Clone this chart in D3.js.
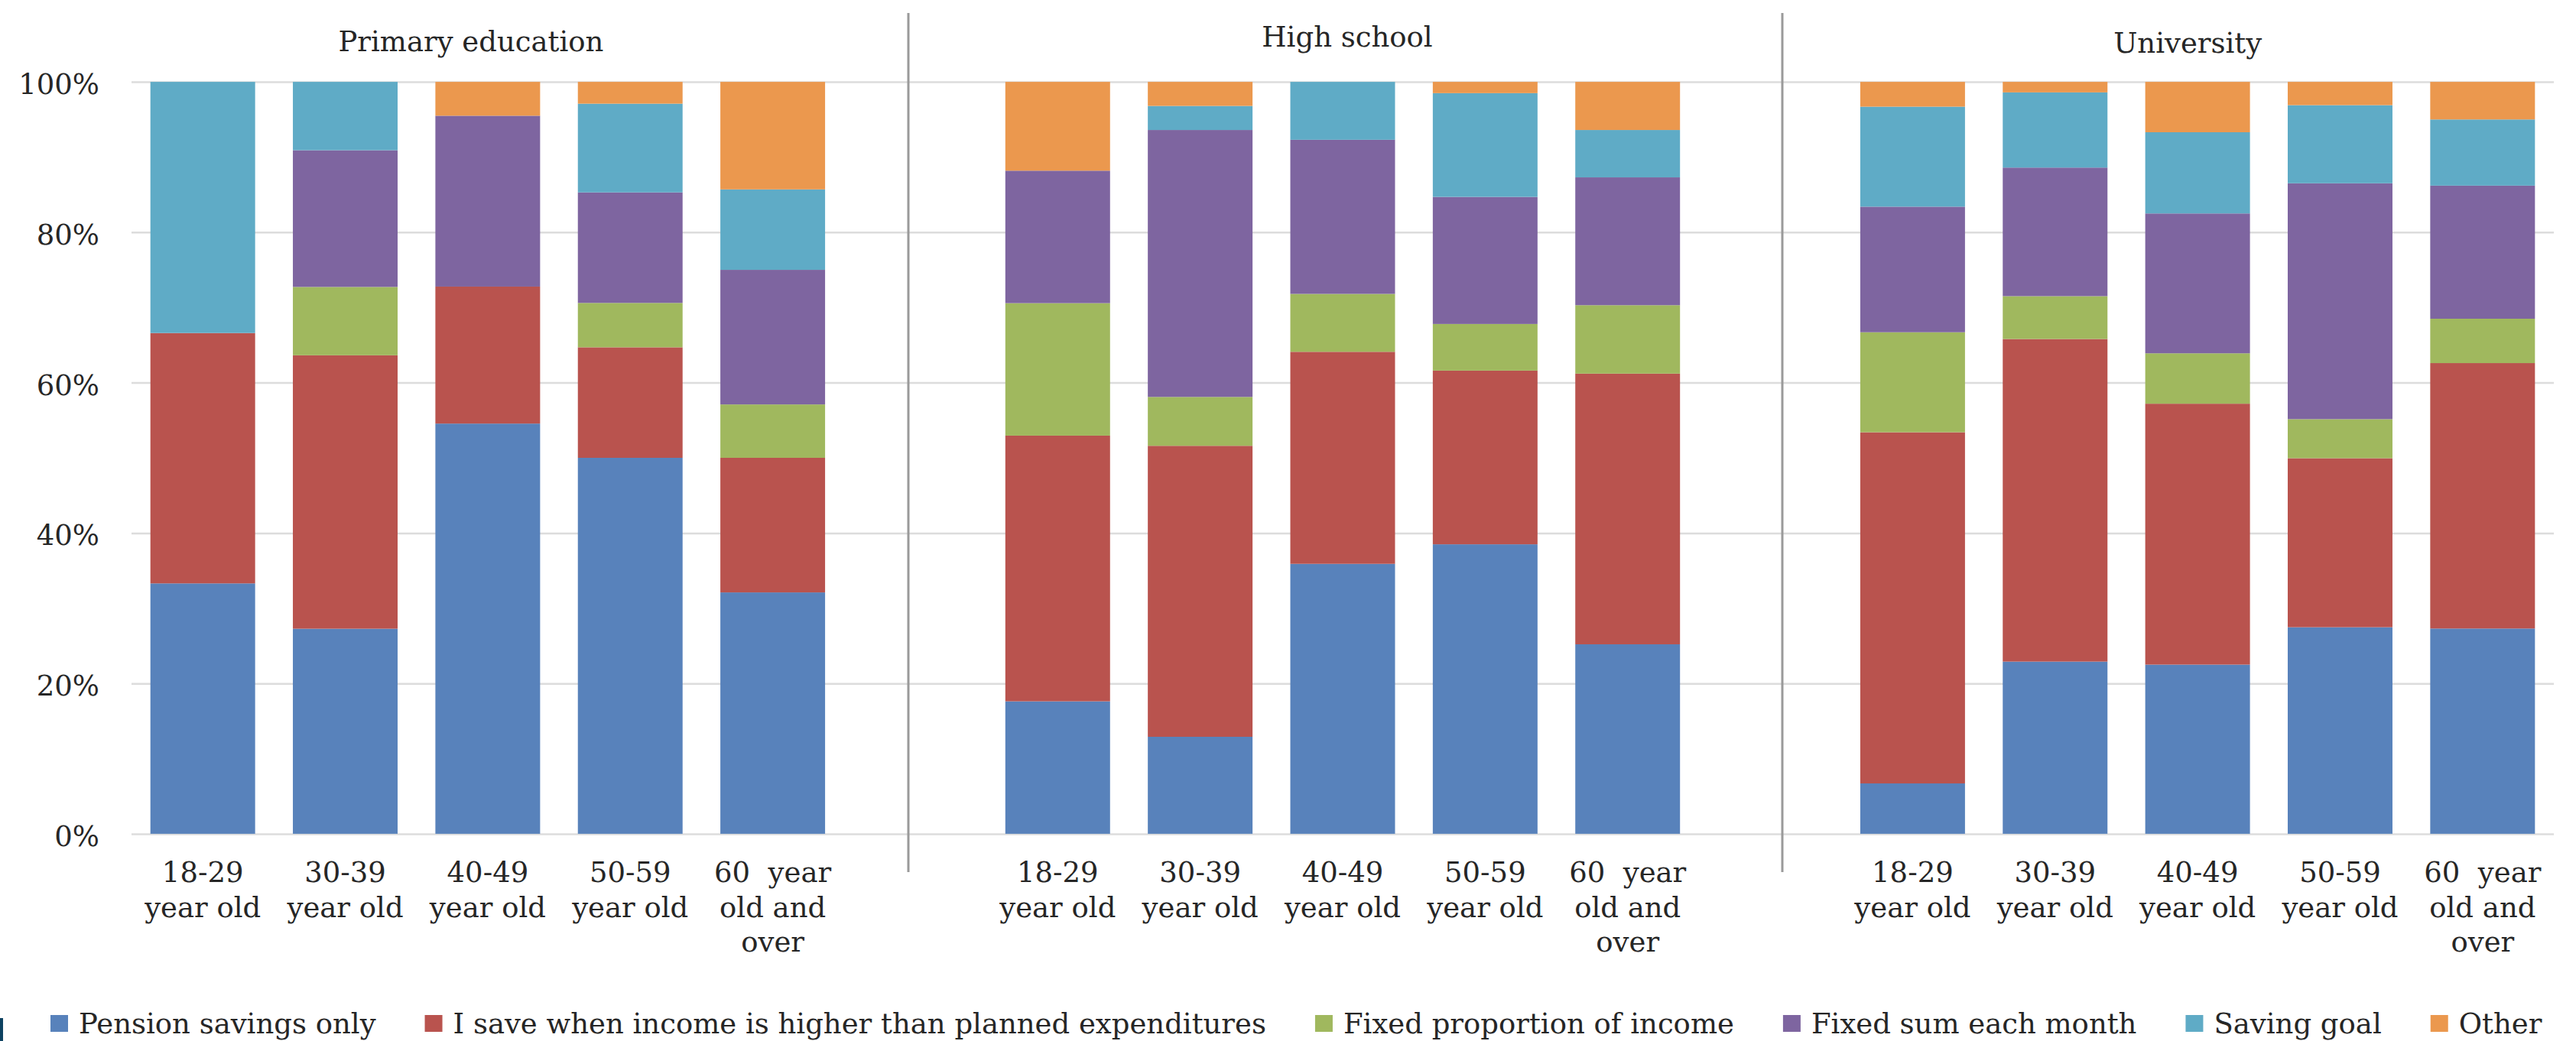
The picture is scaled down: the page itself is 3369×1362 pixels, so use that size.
<!DOCTYPE html>
<html>
<head>
<meta charset="utf-8">
<script src="https://cdn.jsdelivr.net/npm/d3@7"></script>
<style>
  html, body { margin: 0; padding: 0; background: #ffffff; }
  svg { display: block; }
  text { font-family: "DejaVu Serif", "Liberation Serif", serif; fill: #262626; }
</style>
</head>
<body>
<svg id="chart" width="3369" height="1362"></svg>
<script>
// ---------- DATA ----------
const groups = ["Primary education", "High school", "University"];
const ageLabels = [
  ["18-29", "year old"],
  ["30-39", "year old"],
  ["40-49", "year old"],
  ["50-59", "year old"],
  ["60  year", "old and", "over"]
];
const seriesNames = [
  "Pension savings only",
  "I save when income is higher than planned expenditures",
  "Fixed proportion of income",
  "Fixed sum each month",
  "Saving goal",
  "Other"
];
// values in %, order: Primary (5 ages), High school (5 ages), University (5 ages)
const pensionOnly   = [33.3, 27.3, 54.5, 50.0, 32.1, 17.6, 12.9, 35.9, 38.5, 25.2, 6.7, 22.9, 22.5, 27.5, 27.3];
const saveWhenHigher= [33.3, 36.4, 18.2, 14.7, 17.9, 35.3, 38.7, 28.2, 23.1, 36.0, 46.7, 42.9, 34.7, 22.5, 35.3];
const fixedProportion=[0.0, 9.1, 0.0, 5.9, 7.1, 17.6, 6.5, 7.7, 6.2, 9.1, 13.3, 5.7, 6.7, 5.2, 5.9];
const fixedSum      = [0.0, 18.2, 22.7, 14.7, 17.9, 17.6, 35.5, 20.5, 16.9, 17.0, 16.7, 17.1, 18.6, 31.4, 17.7];
const savingGoal    = [33.4, 9.1, 0.0, 11.8, 10.7, 0.0, 3.2, 7.7, 13.8, 6.3, 13.3, 10.0, 10.8, 10.4, 8.8];
const other         = [0.0, 0.0, 4.5, 2.9, 14.3, 11.8, 3.2, 0.0, 1.5, 6.4, 3.3, 1.4, 6.7, 3.1, 5.0];
const yTicks = [0, 0.2, 0.4, 0.6, 0.8, 1.0];

// ---------- STYLE / LAYOUT ----------
const colors = ["#5882bb", "#b9534e", "#a0b85e", "#7e65a0", "#5fabc6", "#eb984e"];
const FONT = 37;
const plot = { left: 172, right: 3340, top: 107.1, bottom: 1090.9 };
const titleY = [67, 61, 69];
const sepX = [1188, 2331];

const svg = d3.select("#chart");

// build rows
const allSeries = [pensionOnly, saveWhenHigher, fixedProportion, fixedSum, savingGoal, other];
const rows = [];
groups.forEach((g, gi) => {
  ageLabels.forEach((a, ai) => {
    const idx = gi * 5 + ai;
    const row = { key: "g" + gi + "a" + ai, group: gi, age: ai };
    seriesNames.forEach((s, si) => row[s] = allSeries[si][idx]);
    rows.push(row);
  });
});

// x domain with blank slots between groups
const xDomain = [];
groups.forEach((g, gi) => {
  ageLabels.forEach((a, ai) => xDomain.push("g" + gi + "a" + ai));
  if (gi < groups.length - 1) xDomain.push("gap" + gi);
});

const x = d3.scaleBand().domain(xDomain).range([plot.left, plot.right])
  .paddingInner(0.265).paddingOuter(0.1325);
const y = d3.scaleLinear().domain([0, 1]).range([plot.bottom, plot.top]);

// gridlines + y labels
const yAxis = d3.axisLeft(y).tickValues(yTicks).tickFormat(d3.format(".0%"))
  .tickSize(-(plot.right - plot.left)).tickPadding(42);
const gy = svg.append("g").attr("transform", `translate(${plot.left},0)`).call(yAxis);
gy.select(".domain").remove();
gy.selectAll(".tick line").attr("stroke", "#dcdcdc").attr("stroke-width", 2.5);
gy.selectAll(".tick text")
  .attr("font-size", FONT)
  .attr("font-family", '"DejaVu Serif", serif')
  .attr("fill", "#262626")
  .attr("dy", "0.42em");

// separators
svg.append("g").selectAll("line").data(sepX).join("line")
  .attr("x1", d => d).attr("x2", d => d)
  .attr("y1", 17).attr("y2", 1141)
  .attr("stroke", "#9a9a9a").attr("stroke-width", 3);

// stacked bars
const stack = d3.stack().keys(seriesNames).offset(d3.stackOffsetExpand);
const stacked = stack(rows);
svg.append("g").selectAll("g").data(stacked).join("g")
  .attr("fill", (d, i) => colors[i])
  .selectAll("rect").data(d => d).join("rect")
  .attr("x", d => x(d.data.key))
  .attr("width", x.bandwidth())
  .attr("y", d => y(d[1]))
  .attr("height", d => Math.max(0, y(d[0]) - y(d[1])));

// x category labels
const xl = svg.append("g").selectAll("text").data(rows).join("text")
  .attr("text-anchor", "middle")
  .attr("font-size", FONT)
  .style("white-space", "pre")
  .attr("transform", d => `translate(${x(d.key) + x.bandwidth() / 2},1154)`);
xl.selectAll("tspan").data(d => ageLabels[d.age]).join("tspan")
  .attr("x", 0)
  .attr("y", (d, i) => i * 45.5)
  .text(d => d);

// group titles
svg.append("g").selectAll("text").data(groups).join("text")
  .attr("text-anchor", "middle")
  .attr("font-size", FONT)
  .attr("x", (d, gi) => {
    const first = x("g" + gi + "a0"), last = x("g" + gi + "a4") + x.bandwidth();
    return gi === 0 ? (first + last) / 2 - 22 : (first + last) / 2 + (gi === 1 ? 6 : -13);
  })
  .attr("y", (d, i) => titleY[i])
  .text(d => d);

// legend
const legend = svg.append("g");
let lx = 66;
seriesNames.forEach((s, i) => {
  legend.append("rect").attr("x", lx).attr("y", 1328).attr("width", 23).attr("height", 22)
    .attr("fill", colors[i]);
  const t = legend.append("text").attr("x", lx + 37).attr("y", 1352)
    .attr("font-size", FONT).text(s);
  lx = lx + 37 + t.node().getComputedTextLength() + 64;
});

// small dark edge mark at bottom-left
svg.append("rect").attr("x", 0).attr("y", 1332).attr("width", 4).attr("height", 30).attr("fill", "#0e4261");
</script>
</body>
</html>
